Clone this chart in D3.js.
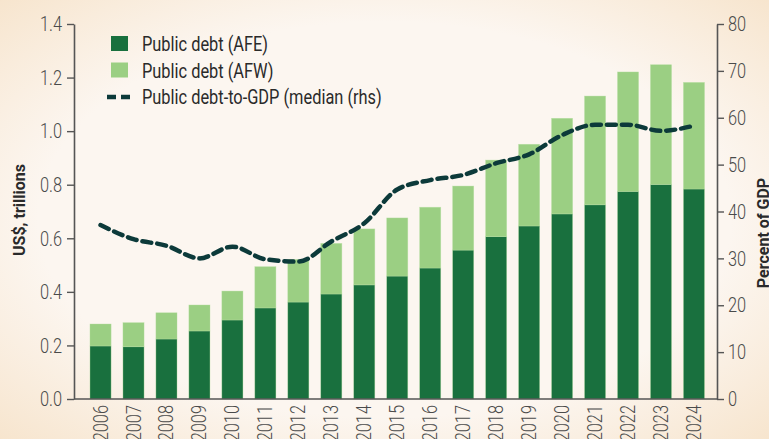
<!DOCTYPE html>
<html>
<head>
<meta charset="utf-8">
<script src="https://cdn.jsdelivr.net/npm/d3@7"></script>
<style>
	html, body { margin: 0; padding: 0; }
	body { width: 769px; height: 439px; overflow: hidden; }
	text { font-family: Roboto, "Noto Sans", sans-serif; }
</style>
</head>
<body>
<div id="chart"></div>
<script>
// chart data
var years = ["2006", "2007", "2008", "2009", "2010", "2011", "2012", "2013", "2014", "2015",
	"2016", "2017", "2018", "2019", "2020", "2021", "2022", "2023", "2024"];
var debtAFE = [0.198, 0.195, 0.224, 0.254, 0.295, 0.340, 0.362, 0.392, 0.426, 0.459,
	0.489, 0.556, 0.606, 0.646, 0.691, 0.725, 0.775, 0.801, 0.784];
var debtAFW = [0.082, 0.090, 0.098, 0.097, 0.108, 0.154, 0.159, 0.189, 0.209, 0.217,
	0.227, 0.239, 0.286, 0.305, 0.357, 0.406, 0.446, 0.447, 0.398];
var debtToGdp = [37.1, 34.1, 32.7, 30.0, 32.5, 29.8, 29.3, 33.6, 37.5, 44.7,
	46.7, 47.8, 50.3, 52.2, 56.3, 58.5, 58.5, 57.2, 58.3];
var leftTicks = [0, 0.2, 0.4, 0.6, 0.8, 1.0, 1.2, 1.4];
var rightTicks = [0, 10, 20, 30, 40, 50, 60, 70, 80];
var legendLabels = ["Public debt (AFE)", "Public debt (AFW)", "Public debt-to-GDP (median (rhs)"];

var W = 769, H = 439;
var plotLeft = 74, plotRight = 717, plotTop = 24, plotBottom = 399;
var darkGreen = "#19703e", lightGreen = "#9bcf83", lineCol = "#0c3a3a", axisCol = "#555";
var squeeze = 0.78; // the original font is a condensed face

var svg = d3.select("#chart")
	.append("svg")
	.attr("width", W)
	.attr("height", H);

// soft peach background
var grad = svg.append("defs").append("radialGradient")
	.attr("id", "bg")
	.attr("cx", "50%").attr("cy", "50%").attr("r", "75%");
grad.append("stop").attr("offset", "60%").attr("stop-color", "#fcf6f0");
grad.append("stop").attr("offset", "100%").attr("stop-color", "#f6e2c8");
svg.append("rect").attr("width", W).attr("height", H).attr("fill", "url(#bg)");

var x = d3.scaleBand()
	.domain(years)
	.range([73.5, 721])
	.paddingInner(0.36)
	.paddingOuter(0.5);
var y = d3.scaleLinear().domain([0, 1.4]).range([plotBottom, plotTop]);
var y2 = d3.scaleLinear().domain([0, 80]).range([plotBottom, plotTop]);

// stacked bars
var rows = years.map(function(yr, i) {
	return { year: yr, afe: debtAFE[i], afw: debtAFW[i] };
});
var stack = d3.stack().keys(["afe", "afw"])(rows);
var colours = { afe: darkGreen, afw: lightGreen };

svg.selectAll("g.layer")
	.data(stack)
	.enter()
	.append("g")
	.attr("class", "layer")
	.attr("fill", function(d) { return colours[d.key]; })
	.selectAll("rect")
	.data(function(d) { return d; })
	.enter()
	.append("rect")
	.attr("x", function(d) { return x(d.data.year); })
	.attr("width", x.bandwidth())
	.attr("y", function(d) { return y(d[1]); })
	.attr("height", function(d) { return y(d[0]) - y(d[1]); })
	.attr("stroke", "#b8e0a4")
	.attr("stroke-width", 0.6)
	.attr("stroke-opacity", 0.6);

// dashed median line
var line = d3.line()
	.x(function(d, i) { return x(years[i]) + x.bandwidth() / 2; })
	.y(function(d) { return y2(d); })
	.curve(d3.curveMonotoneX);

svg.append("path")
	.datum(debtToGdp)
	.attr("d", line)
	.attr("fill", "none")
	.attr("stroke", lineCol)
	.attr("stroke-width", 4.5)
	.attr("stroke-dasharray", "9,6")
	.attr("stroke-linecap", "round");

// axes
function styleAxis(g, off) {
	g.select(".domain").attr("stroke", axisCol).attr("stroke-width", 1.6);
	g.selectAll(".tick line").attr("stroke", axisCol).attr("stroke-width", 1.4);
	g.selectAll(".tick text")
		.attr("fill", "#4a4a4a")
		.attr("x", off / squeeze)
		.attr("transform", "scale(" + squeeze + ",1)")
		.style("font-size", "21px")
		.style("font-weight", "300");
}

svg.append("g")
	.attr("transform", "translate(" + plotLeft + ",0)")
	.call(d3.axisLeft(y).tickValues(leftTicks).tickFormat(d3.format(".1f")).tickSize(7).tickSizeOuter(0))
	.call(styleAxis, -12);

svg.append("g")
	.attr("transform", "translate(" + plotRight + ",0)")
	.call(d3.axisRight(y2).tickValues(rightTicks).tickSize(7).tickSizeOuter(0))
	.call(styleAxis, 11);

// bottom axis line and year labels
svg.append("line")
	.attr("x1", plotLeft).attr("x2", plotRight)
	.attr("y1", plotBottom).attr("y2", plotBottom)
	.attr("stroke", axisCol)
	.attr("stroke-width", 1.6);

svg.selectAll("text.year")
	.data(years)
	.enter()
	.append("text")
	.attr("class", "year")
	.attr("transform", function(d) {
		return "translate(" + (x(d) + x.bandwidth() / 2 + 7) + "," + (plotBottom + 6) + ") rotate(-90) scale(" + squeeze + ",1)";
	})
	.attr("text-anchor", "end")
	.attr("fill", "#4a4a4a")
	.style("font-size", "21px")
	.style("font-weight", "300")
	.text(function(d) { return d; });

// axis titles
svg.append("text")
	.attr("transform", "translate(25,210) rotate(-90)")
	.attr("text-anchor", "middle")
	.attr("fill", "#2a2a2a")
	.style("font-size", "16px")
	.style("font-weight", "bold")
	.text("US$, trillions");

svg.append("text")
	.attr("transform", "translate(769,233) rotate(-90)")
	.attr("text-anchor", "middle")
	.attr("fill", "#2a2a2a")
	.style("font-size", "16px")
	.style("font-weight", "bold")
	.text("Percent of GDP");

// legend
var legend = svg.append("g").attr("transform", "translate(111,36)");
var items = legend.selectAll("g")
	.data(legendLabels)
	.enter()
	.append("g")
	.attr("transform", function(d, i) { return "translate(0," + (i * 26.5) + ")"; });

items.filter(function(d, i) { return i < 2; })
	.append("rect")
	.attr("width", 17)
	.attr("height", 15)
	.attr("fill", function(d, i) { return i == 0 ? darkGreen : lightGreen; });

items.filter(function(d, i) { return i == 2; })
	.append("line")
	.attr("x1", -4).attr("x2", 21)
	.attr("y1", 8).attr("y2", 8)
	.attr("stroke", lineCol)
	.attr("stroke-width", 4.5)
	.attr("stroke-dasharray", "9,5");

items.append("text")
	.attr("transform", "translate(31,15) scale(" + squeeze + ",1)")
	.attr("fill", "#2a2a2a")
	.style("font-size", "21px")
	.text(function(d) { return d; });
</script>
</body>
</html>
